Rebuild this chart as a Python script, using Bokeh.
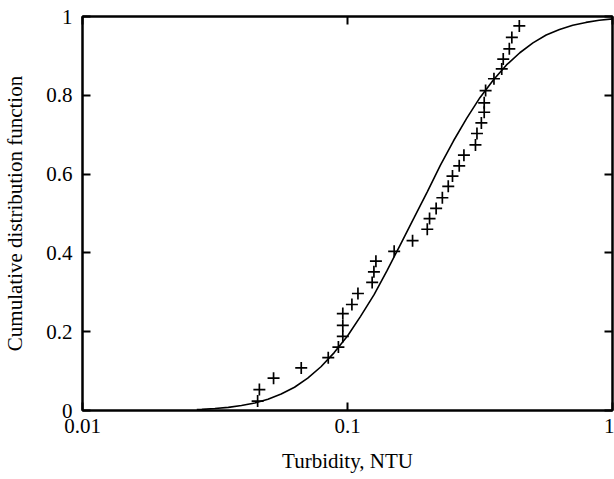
from bokeh.plotting import figure
from bokeh.models import LinearAxis, LogAxis, FixedTicker, Range1d
from bokeh.embed import file_html
from bokeh.resources import INLINE

turbidity = [0.0458, 0.0465, 0.0526, 0.0669, 0.0846, 0.0924, 0.0960, 0.0960, 0.0960,
             0.1039, 0.1095, 0.1239, 0.1258, 0.1280, 0.150, 0.176, 0.200, 0.204,
             0.216, 0.228, 0.240, 0.249, 0.264, 0.275, 0.304, 0.308, 0.320, 0.328,
             0.328, 0.332, 0.357, 0.382, 0.387, 0.408, 0.417, 0.445]
cdf_obs = [0.024, 0.053, 0.082, 0.108, 0.134, 0.161, 0.188, 0.216, 0.246,
           0.269, 0.297, 0.325, 0.352, 0.379, 0.404, 0.431, 0.460, 0.487,
           0.513, 0.540, 0.569, 0.595, 0.621, 0.648, 0.674, 0.703, 0.730, 0.757,
           0.781, 0.812, 0.842, 0.867, 0.892, 0.918, 0.947, 0.976]

# Fitted curve
curve_x = [0.027, 0.0282, 0.0316, 0.0355, 0.0398, 0.0447, 0.0501, 0.0562, 0.0631, 0.0708,
           0.0794, 0.0891, 0.100, 0.112, 0.126, 0.141, 0.158, 0.178, 0.200, 0.224,
           0.251, 0.282, 0.316, 0.355, 0.398, 0.447, 0.501, 0.562, 0.631, 0.708,
           0.794, 0.891, 1.0]
curve_y = [0.0022, 0.0029, 0.0049, 0.0080, 0.0125, 0.0192, 0.0287, 0.0418, 0.059, 0.082,
           0.111, 0.147, 0.189, 0.239, 0.294, 0.355, 0.420, 0.488, 0.555, 0.622,
           0.684, 0.742, 0.794, 0.839, 0.877, 0.908, 0.933, 0.953, 0.967, 0.978,
           0.985, 0.9906, 0.994]

x_ticks = [0.01, 0.1, 1]
x_tick_labels = ["0.01", "0.1", "1"]
y_ticks = [0, 0.2, 0.4, 0.6, 0.8, 1]
y_tick_labels = ["0", "0.2", "0.4", "0.6", "0.8", "1"]

FONT = "Liberation Serif"

p = figure(width=614, height=479, x_axis_type="log",
           x_range=Range1d(0.01, 1), y_range=Range1d(0, 1),
           output_backend="svg", toolbar_location=None,
           min_border_left=82, min_border_right=2, min_border_top=16, min_border_bottom=69)
p.grid.visible = False
p.outline_line_color = "black"
p.outline_line_width = 2
p.background_fill_color = "white"
p.border_fill_color = "white"

xa = p.xaxis[0]
xa.ticker = FixedTicker(ticks=x_ticks)
xa.major_label_overrides = {t: l for t, l in zip(x_ticks, x_tick_labels)}
xa.axis_label = "Turbidity, NTU"
ya = p.yaxis[0]
ya.ticker = FixedTicker(ticks=y_ticks)
ya.major_label_overrides = {t: l for t, l in zip(y_ticks, y_tick_labels)}
ya.axis_label = "Cumulative distribution function"

for ax in (xa, ya):
    ax.major_tick_in = 8
    ax.major_tick_out = 0
    ax.minor_tick_in = 0
    ax.minor_tick_out = 0
    ax.axis_line_width = 2
    ax.major_tick_line_width = 2
    ax.major_label_text_font = FONT
    ax.major_label_text_font_size = "21px"
    ax.major_label_text_color = "black"
    ax.axis_label_text_font = FONT
    ax.axis_label_text_font_size = "21px"
    ax.axis_label_text_font_style = "normal"
    ax.axis_label_text_color = "black"
ya.major_label_standoff = 10
xa.major_label_standoff = 8
ya.axis_label_standoff = 16
xa.axis_label_standoff = 13

top = LogAxis(ticker=FixedTicker(ticks=x_ticks))
right = LinearAxis(ticker=FixedTicker(ticks=y_ticks))
for ax in (top, right):
    ax.major_tick_in = 8
    ax.major_tick_out = 0
    ax.minor_tick_in = 0
    ax.minor_tick_out = 0
    ax.axis_line_width = 2
    ax.major_tick_line_width = 2
    ax.major_label_text_font_size = "1px"
    ax.major_label_text_color = None
    ax.major_label_standoff = 0
p.add_layout(top, "above")
p.add_layout(right, "right")

p.line(curve_x, curve_y, line_color="black", line_width=1.6)
p.scatter(turbidity, cdf_obs, marker="cross", size=12, line_color="black", line_width=1.7)

open("out.html", "w").write(file_html(p, INLINE))
